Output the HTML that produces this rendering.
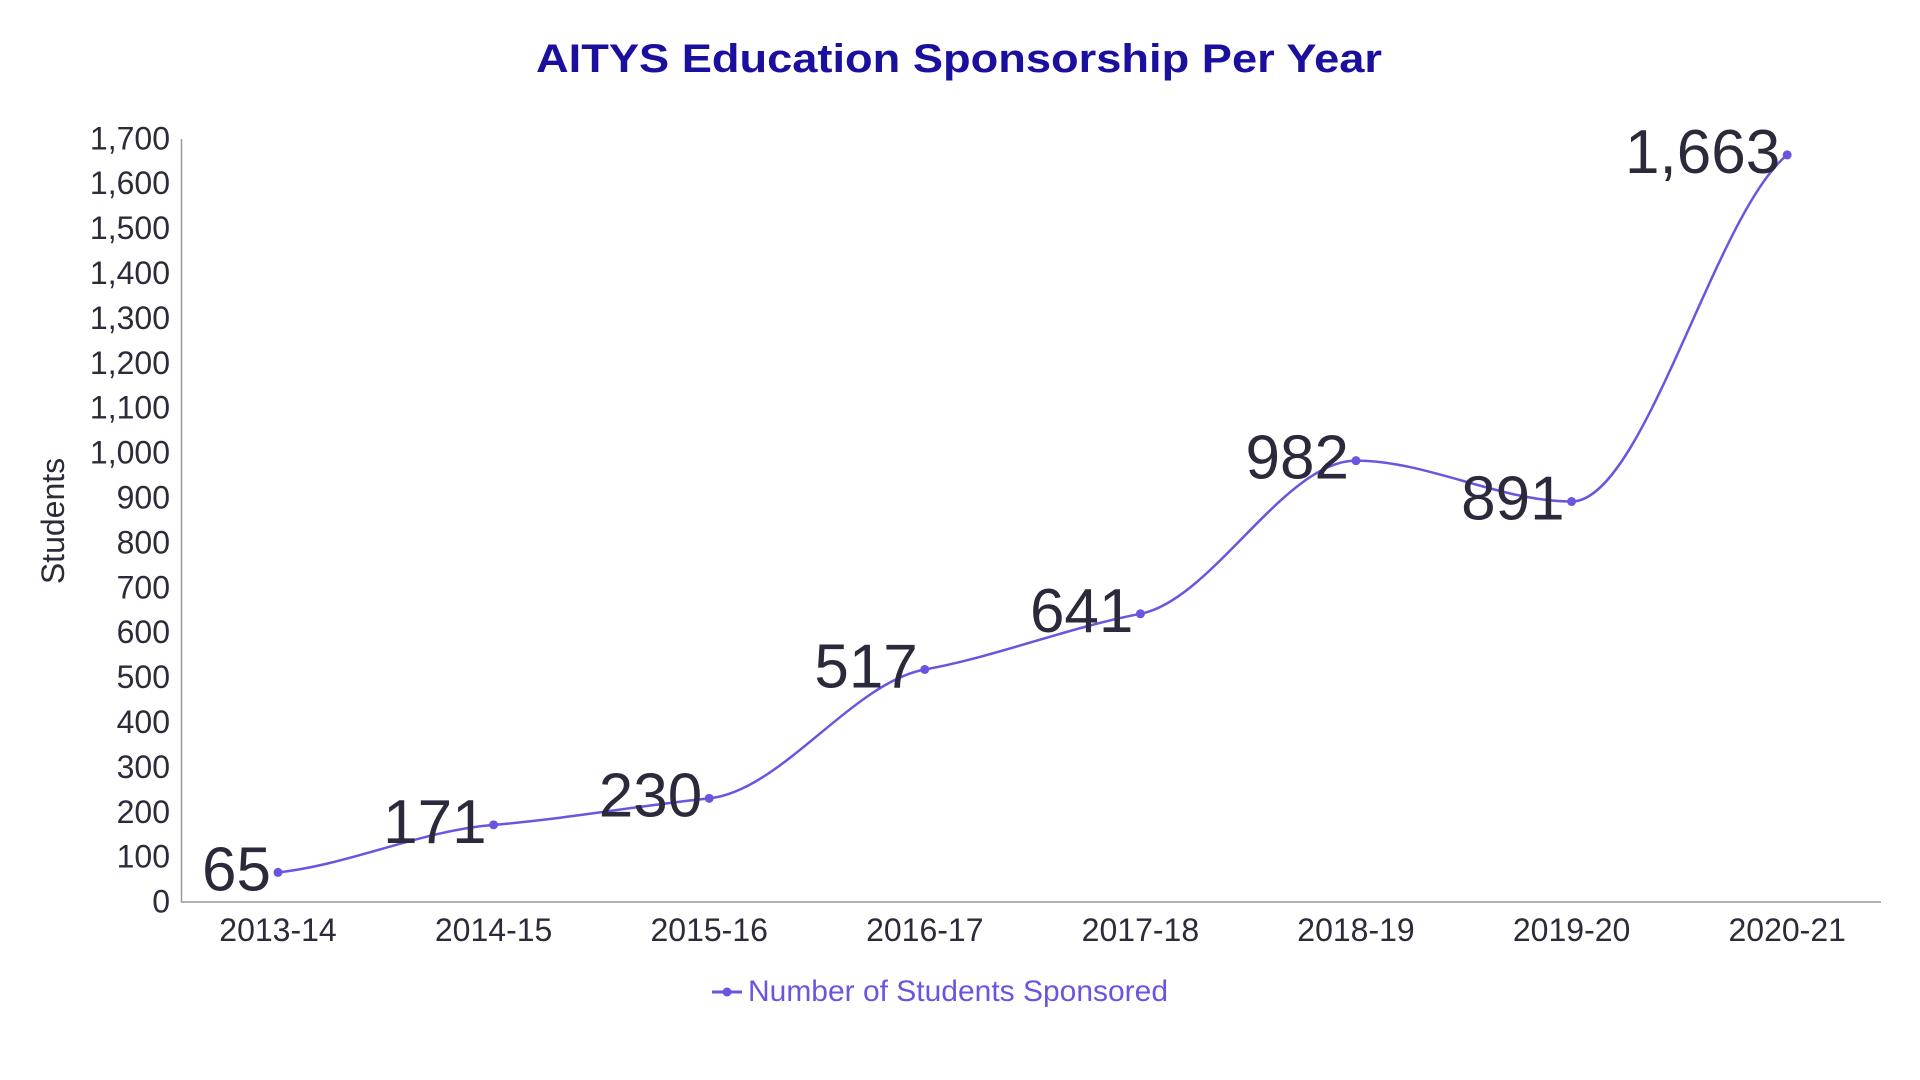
<!DOCTYPE html>
<html><head><meta charset="utf-8"><style>
html,body{margin:0;padding:0;background:#fff;width:1920px;height:1080px;overflow:hidden}
svg{display:block;font-family:"Liberation Sans",Arial,sans-serif}
</style></head><body>
<svg id="s" width="1920" height="1080" viewBox="0 0 1920 1080">
<text x="959" y="72" text-anchor="middle" font-size="40" font-weight="bold" fill="#1b0f9e" textLength="846" lengthAdjust="spacingAndGlyphs">AITYS Education Sponsorship Per Year</text>
<line x1="181.5" y1="139" x2="181.5" y2="902" stroke="#999" stroke-width="1.5"/>
<line x1="181" y1="902" x2="1881" y2="902" stroke="#999" stroke-width="1.5"/>
<g id="yt" font-size="32" fill="#2b2b3a" text-anchor="end"></g>
<g id="xt" font-size="32" fill="#2b2b3a" text-anchor="middle"></g>
<text transform="translate(64,521) rotate(-90)" text-anchor="middle" font-size="32" fill="#2b2b3a">Students</text>
<path id="ln" fill="none" stroke="#6a55e0" stroke-width="2.5"/>
<g id="pts" fill="#6a55e0"></g>
<g id="lb" font-size="62" fill="#2a2a3a" text-anchor="end"></g>
<line x1="712" y1="992" x2="742" y2="992" stroke="#6a55e0" stroke-width="3"/>
<circle cx="727" cy="992" r="4.5" fill="#6a55e0"/>
<text x="748" y="1001" font-size="30" fill="#6a55e0" textLength="420" lengthAdjust="spacingAndGlyphs">Number of Students Sponsored</text>
</svg>
<script>
var NS="http://www.w3.org/2000/svg";
function el(p,t,a,txt){var e=document.createElementNS(NS,t);for(var k in a)e.setAttribute(k,a[k]);if(txt!=null)e.textContent=txt;p.appendChild(e);return e;}
function Y(v){return 901.6-v*0.449;}
var yt=document.getElementById('yt');
for(var v=0;v<=1700;v+=100){el(yt,'text',{x:170,y:Y(v)+11},v.toLocaleString('en-US'));}
var cats=["2013-14","2014-15","2015-16","2016-17","2017-18","2018-19","2019-20","2020-21"];
var vals=[65,171,230,517,641,982,891,1663];
var xt=document.getElementById('xt'),pts=document.getElementById('pts'),lb=document.getElementById('lb');
var X=[],YY=[];
for(var i=0;i<8;i++){var x=278+i*215.6;X.push(x);YY.push(Y(vals[i]));
el(xt,'text',{x:x,y:941},cats[i]);
el(pts,'circle',{cx:x,cy:Y(vals[i]),r:4.5});
el(lb,'text',{x:x-7,y:Y(vals[i])+18},vals[i].toLocaleString('en-US'));}
var n=8,d=[],m=[];
for(var i=0;i<n-1;i++)d.push((YY[i+1]-YY[i])/(X[i+1]-X[i]));
m[0]=d[0]*0.5;m[n-1]=d[n-2]*0.5;
for(var i=1;i<n-1;i++){if(d[i-1]*d[i]<=0)m[i]=0;else m[i]=0.5*2/(1/d[i-1]+1/d[i]);}
var p="M"+X[0]+","+YY[0];
for(var i=0;i<n-1;i++){var h=(X[i+1]-X[i])/3;
p+=" C"+(X[i]+h)+","+(YY[i]+m[i]*h)+" "+(X[i+1]-h)+","+(YY[i+1]-m[i+1]*h)+" "+X[i+1]+","+YY[i+1];}
document.getElementById('ln').setAttribute('d',p);
</script>
</body></html>
